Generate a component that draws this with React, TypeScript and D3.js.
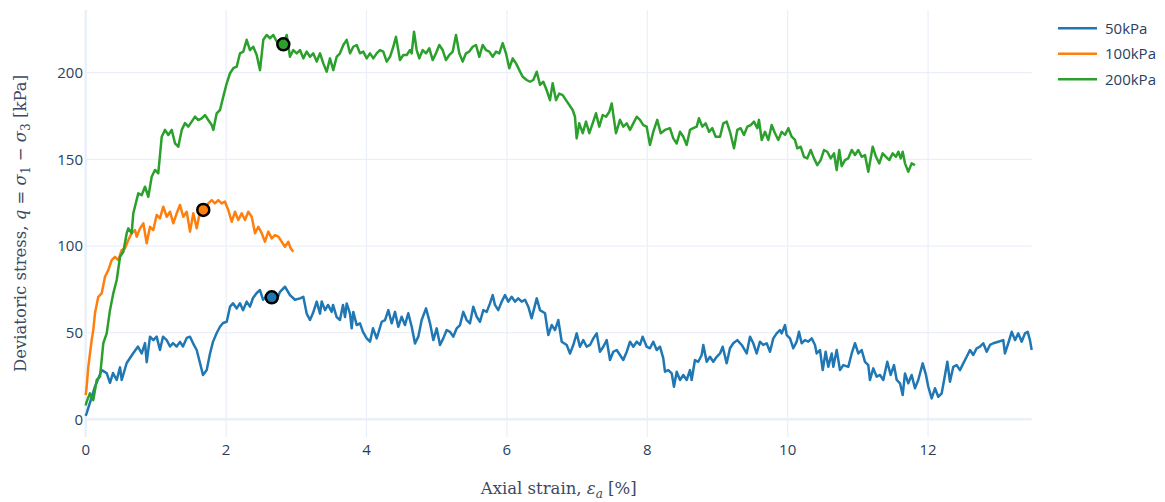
import React from 'react';
import * as d3 from 'd3';

const seriesNames = ['50kPa', '100kPa', '200kPa'];
const seriesColors = ['#1f77b4', '#ff7f0e', '#2ca02c'];

// [axial strain %, deviatoric stress kPa]
const data50: [number, number][] = [
  [0,2],[0.014,3.6],[0.132,18.8],[0.228,28.4],[0.299,26.7],[0.346,21],[0.389,26.7],[0.442,22.7],[0.489,30],[0.513,22.7],
  [0.584,32.5],[0.674,38],[0.745,42],[0.798,38],[0.845,44],[0.869,33],[0.916,47.7],[0.963,45.7],[1.011,47.7],[1.058,40],
  [1.101,47.7],[1.154,45.7],[1.201,42],[1.244,44],[1.296,42],[1.343,44.7],[1.386,42],[1.439,47],[1.486,47.7],[1.528,44],
  [1.581,40],[1.628,32.5],[1.671,25.6],[1.724,28.4],[1.771,38],[1.813,44.7],[1.866,49.8],[1.913,53.4],[1.956,55.6],[2.009,56.3],
  [2.056,65],[2.098,67],[2.151,64],[2.198,67],[2.241,63],[2.293,67.9],[2.34,65],[2.383,70],[2.436,72.9],[2.483,74.6],
  [2.526,69],[2.597,72],[2.65,70.4],[2.711,68],[2.768,73.6],[2.839,76.5],[2.91,71.7],[2.981,69],[3.053,69.8],[3.1,70.7],
  [3.148,61],[3.195,57.3],[3.238,61.3],[3.291,67.9],[3.338,61],[3.362,68],[3.409,63],[3.452,66],[3.504,62],[3.523,66],
  [3.575,59],[3.622,57.3],[3.665,66],[3.694,59],[3.718,66.9],[3.765,61],[3.789,52.5],[3.812,62],[3.86,54.4],[3.907,55.4],
  [3.95,50.5],[4.003,46.7],[4.05,44.8],[4.093,52.5],[4.145,46.7],[4.217,56.3],[4.264,57.3],[4.311,63],[4.359,55.4],[4.406,62],
  [4.453,53.4],[4.501,59.2],[4.548,54.4],[4.595,61.2],[4.644,53.4],[4.691,43.8],[4.738,47.7],[4.786,57.3],[4.848,64],[4.905,55.4],
  [4.952,45.7],[5.0,52.5],[5.047,42.9],[5.094,46.7],[5.142,51.5],[5.189,50.5],[5.236,47.7],[5.285,52.5],[5.332,54.4],[5.379,62],
  [5.427,57.3],[5.474,55.4],[5.521,65],[5.57,59.2],[5.617,56.3],[5.664,63],[5.712,62],[5.759,66.9],[5.798,71.7],[5.83,66],
  [5.877,63],[5.926,67.9],[5.973,71.7],[6.02,67.9],[6.068,70.7],[6.115,67.9],[6.162,69.8],[6.211,67.9],[6.258,69],[6.305,65],
  [6.353,58.3],[6.425,69.8],[6.472,63],[6.543,61.2],[6.59,48.6],[6.638,54.4],[6.685,51.5],[6.732,57.3],[6.781,44.8],[6.852,42.9],
  [6.899,38],[6.946,42.9],[6.994,49.6],[7.041,41.9],[7.088,45.7],[7.137,41.9],[7.184,42.9],[7.231,46.7],[7.279,49.6],[7.326,39],
  [7.373,41.9],[7.422,45.7],[7.469,34.2],[7.516,39],[7.564,40],[7.611,37.1],[7.658,34.2],[7.707,39],[7.754,44.8],[7.801,41.9],
  [7.849,44.8],[7.896,42.9],[7.934,47.7],[7.991,41.9],[8.038,41],[8.085,44.8],[8.134,40],[8.181,41.9],[8.228,35.2],[8.252,27.5],
  [8.299,28.4],[8.348,26.5],[8.38,18.8],[8.419,27.5],[8.466,22.7],[8.513,25.6],[8.561,22.7],[8.608,28.4],[8.632,22.7],[8.679,34.2],
  [8.726,33.2],[8.775,37.1],[8.798,42.9],[8.846,33.2],[8.893,36.1],[8.94,33.2],[8.989,36.1],[9.036,38],[9.074,41.9],[9.131,32.3],
  [9.178,41],[9.225,43.9],[9.282,45.7],[9.345,42.9],[9.416,38],[9.463,47.7],[9.51,43.9],[9.558,38],[9.605,44.8],[9.652,42.9],
  [9.701,43.9],[9.748,39],[9.795,46.7],[9.843,49.6],[9.89,51.5],[9.915,49.6],[9.962,54.4],[9.986,48.6],[10.033,46.7],[10.08,41],
  [10.128,44.8],[10.161,50.5],[10.199,43.9],[10.246,45.7],[10.293,44.8],[10.342,46.7],[10.389,42.9],[10.413,38],[10.46,40],[10.499,28.4],
  [10.541,39],[10.578,30.3],[10.627,38],[10.65,30.3],[10.698,40],[10.745,28.4],[10.792,31.3],[10.863,30.3],[10.912,38],[10.959,43.9],
  [11.006,38],[11.054,40],[11.101,33.2],[11.148,31.3],[11.172,22.7],[11.219,29.4],[11.268,24.6],[11.315,25.6],[11.362,22.7],[11.419,33.2],
  [11.467,25.6],[11.514,31.3],[11.553,22.7],[11.6,20.8],[11.638,14],[11.671,26.5],[11.718,20.8],[11.766,25.6],[11.813,17.9],[11.86,22.7],
  [11.923,32.3],[11.97,25.6],[12.003,18.8],[12.051,12.1],[12.098,17.9],[12.145,13],[12.194,15],[12.241,25.6],[12.274,33.2],[12.312,21.7],
  [12.359,30.3],[12.407,31.3],[12.454,28.4],[12.501,32.3],[12.55,36.1],[12.597,40],[12.644,37.1],[12.692,41],[12.739,41.9],[12.786,43.9],
  [12.835,39],[12.882,42.9],[12.929,43.9],[13.0,44.8],[13.071,45.7],[13.095,38],[13.142,43.9],[13.191,50.5],[13.238,45.7],[13.285,49.6],
  [13.333,44.8],[13.38,49.6],[13.419,50.5],[13.451,45.7],[13.476,40]
];

const data100: [number, number][] = [
  [0,14],[0.014,18.8],[0.037,30.3],[0.085,45.7],[0.108,51.5],[0.132,61.2],[0.179,70.7],[0.228,72.7],[0.275,82.3],[0.322,86.1],
  [0.37,91.9],[0.417,93.8],[0.464,91.9],[0.513,97.7],[0.56,98.7],[0.607,103.5],[0.655,107.4],[0.702,109.2],[0.726,105.4],[0.774,110.2],
  [0.821,113.1],[0.869,101.6],[0.916,111.1],[0.963,109.2],[1.011,117.9],[1.058,116],[1.105,122.7],[1.154,116.9],[1.201,119.8],[1.248,113.1],
  [1.296,118.9],[1.343,123.7],[1.39,116.9],[1.439,119.8],[1.486,108.3],[1.533,118.9],[1.581,110.2],[1.628,119.8],[1.675,120.8],[1.746,124.6],
  [1.795,126.5],[1.842,124.6],[1.889,126.5],[1.937,124.6],[1.984,125.6],[2.031,120.8],[2.08,114],[2.127,119.8],[2.174,115],[2.222,118.9],
  [2.269,115],[2.316,119.8],[2.365,116.9],[2.412,107.4],[2.459,111.1],[2.507,107.4],[2.554,102.5],[2.601,108.3],[2.65,104.4],[2.697,106.3],
  [2.744,105.4],[2.792,102.5],[2.839,99.6],[2.886,102.5],[2.92,98.7],[2.957,96.7]
];

const data200: [number, number][] = [
  [0,8],[0.014,10.2],[0.061,15],[0.108,11.1],[0.157,22.7],[0.204,24.6],[0.251,43.9],[0.299,49.6],[0.346,63],[0.393,72.7],
  [0.442,80.4],[0.489,93.8],[0.536,96.7],[0.584,107.4],[0.607,110.2],[0.655,107.4],[0.678,118.9],[0.749,130.4],[0.798,129.4],[0.845,134.2],
  [0.892,128.4],[0.94,140],[0.987,143.9],[1.034,142],[1.083,163.1],[1.13,167],[1.177,164.1],[1.225,167],[1.272,159.3],[1.319,157.3],
  [1.368,167],[1.415,170.9],[1.462,168.9],[1.51,171.8],[1.557,174.7],[1.604,172.7],[1.652,173.7],[1.699,175.6],[1.746,172.7],[1.795,169.8],
  [1.818,167],[1.866,176.6],[1.913,178.5],[1.96,186.2],[2.009,193.9],[2.056,199.7],[2.103,202.6],[2.151,203.5],[2.198,211.2],[2.245,212.2],
  [2.293,219],[2.34,213.1],[2.387,215],[2.436,210.2],[2.483,201.5],[2.53,219],[2.578,221.8],[2.625,219.9],[2.672,221.8],[2.721,218],
  [2.768,219],[2.815,216.4],[2.863,221.8],[2.91,209.2],[2.957,213.1],[3.006,211.2],[3.053,213.1],[3.1,208.3],[3.148,212.2],[3.195,209.2],
  [3.242,211.2],[3.291,206.4],[3.338,211.2],[3.385,205.4],[3.433,200.6],[3.48,208.3],[3.527,201.5],[3.575,209.2],[3.622,211.2],[3.67,216],
  [3.718,219],[3.765,211.2],[3.812,215],[3.86,216],[3.907,211.2],[3.954,212.2],[4.003,208.3],[4.05,211.2],[4.097,208.3],[4.145,211.2],
  [4.192,213.1],[4.239,212.2],[4.288,206.4],[4.335,209.2],[4.382,215],[4.42,220.7],[4.477,207.3],[4.524,210.2],[4.573,210.2],[4.62,213.1],
  [4.644,211.2],[4.677,223.7],[4.715,213.1],[4.752,208.3],[4.801,213.1],[4.848,211.2],[4.895,214.1],[4.943,207.3],[4.99,211.2],[5.037,216],
  [5.085,213.1],[5.132,207.3],[5.179,210.2],[5.228,212.2],[5.275,221.8],[5.322,211.2],[5.37,206.4],[5.417,211.2],[5.464,212.2],[5.513,215],
  [5.56,216],[5.607,209.2],[5.655,216],[5.702,213.1],[5.749,212.2],[5.798,209.2],[5.845,212.2],[5.892,211.2],[5.94,217.1],[5.987,211.2],
  [6.034,202.6],[6.083,208.3],[6.13,205.4],[6.177,201.5],[6.225,197.7],[6.282,195.8],[6.329,194.8],[6.376,195.8],[6.425,200.6],[6.472,193],
  [6.519,194.8],[6.567,189.9],[6.614,184.2],[6.652,193.9],[6.699,184.2],[6.746,188],[6.795,187.1],[6.842,184.2],[6.889,181.4],[6.937,178.5],
  [6.97,174.6],[6.994,162.1],[7.031,170.8],[7.08,165.1],[7.127,171.8],[7.174,165.1],[7.222,170.8],[7.269,176.6],[7.316,168.9],[7.365,175.6],
  [7.412,174.6],[7.459,177.5],[7.493,182.3],[7.554,165.1],[7.611,172.8],[7.658,168.9],[7.707,170.8],[7.754,167],[7.801,170.8],[7.849,174.6],
  [7.896,172.8],[7.943,169.8],[7.991,168.9],[8.038,158.3],[8.085,165.9],[8.142,172.8],[8.191,165.1],[8.252,167],[8.323,168],[8.37,162.1],
  [8.419,159.2],[8.466,165.9],[8.513,163.1],[8.561,158.3],[8.608,167],[8.655,168],[8.704,168.9],[8.736,173.7],[8.784,168.9],[8.832,170.8],
  [8.879,165.9],[8.926,168],[8.974,163.1],[9.036,163.1],[9.083,170.8],[9.131,171.8],[9.178,165.9],[9.235,156.4],[9.282,167],[9.33,168],
  [9.377,164.1],[9.425,168.9],[9.473,169.8],[9.52,171.8],[9.567,168],[9.591,172.8],[9.63,161.2],[9.677,165.9],[9.724,161.2],[9.772,169.8],
  [9.819,165.1],[9.866,161.2],[9.915,165.9],[9.962,164.1],[10.009,168],[10.057,163.1],[10.104,161.2],[10.137,156.4],[10.185,157.3],[10.232,151.5],
  [10.279,150.6],[10.328,155.4],[10.375,150.6],[10.422,146.7],[10.47,149.6],[10.517,155.4],[10.564,154.4],[10.613,150.6],[10.66,153.5],[10.698,143.8],
  [10.735,155.4],[10.769,146.1],[10.816,149.6],[10.863,150.6],[10.912,155.4],[10.959,152.5],[11.006,155.4],[11.054,151.5],[11.101,152.5],[11.148,142.9],
  [11.211,157.3],[11.258,151.5],[11.305,147.7],[11.353,153.5],[11.4,151.5],[11.447,149.6],[11.496,153.5],[11.543,151.5],[11.576,154.4],[11.61,150.6],
  [11.638,154.4],[11.671,147.7],[11.718,142.9],[11.766,147.7],[11.813,146.7]
];

const allSeries = [data50, data100, data200];

const peakStrain = [2.65, 1.675, 2.815];
const peakStress = [70.4, 120.8, 216.4];

const xTicks = [0, 2, 4, 6, 8, 10, 12];
const yTicks = [0, 50, 100, 150, 200];

const W = 1165;
const H = 502;
const plotLeft = 85.7;
const plotRight = 1031.7;
const plotTop = 10;
const plotBottom = 437;
const yRange: [number, number] = [-10.2, 236.2];

const tickColor = '#2a3f5f';
const titleColor = '#3b4a63';
const gridColor = '#ebf0f8';
const sansFont = '"Open Sans", "Noto Sans", sans-serif';
const serifFont = '"DejaVu Serif", "Liberation Serif", serif';

export default function App() {
  const xMax = d3.max(data50, (d) => d[0]) as number;
  const x = d3.scaleLinear().domain([0, xMax]).range([plotLeft, plotRight]);
  const y = d3.scaleLinear().domain(yRange).range([plotBottom, plotTop]);
  const line = d3
    .line<[number, number]>()
    .x((d) => x(d[0]))
    .y((d) => y(d[1]));

  const midY = (plotTop + plotBottom) / 2;
  const midX = (plotLeft + plotRight) / 2;

  return (
    <svg
      width={W}
      height={H}
      style={{ position: 'absolute', left: 0, top: 0, background: '#fff' }}
    >
      <rect x={0} y={0} width={W} height={H} fill="#fff" />
      {xTicks.filter((t) => t !== 0).map((t) => (
        <line key={'gx' + t} x1={x(t)} x2={x(t)} y1={plotTop} y2={plotBottom} stroke={gridColor} strokeWidth={1.25} />
      ))}
      {yTicks.filter((t) => t !== 0).map((t) => (
        <line key={'gy' + t} x1={plotLeft} x2={plotRight} y1={y(t)} y2={y(t)} stroke={gridColor} strokeWidth={1.25} />
      ))}
      <line x1={x(0)} x2={x(0)} y1={plotTop} y2={plotBottom} stroke={gridColor} strokeWidth={2.5} />
      <line x1={plotLeft} x2={plotRight} y1={y(0)} y2={y(0)} stroke={gridColor} strokeWidth={2.5} />

      {xTicks.map((t) => (
        <text key={'tx' + t} x={x(t)} y={455} textAnchor="middle" fontFamily={sansFont} fontSize={15} fill={tickColor}>
          {t}
        </text>
      ))}
      {yTicks.map((t) => (
        <text key={'ty' + t} x={83} y={y(t)} dy="0.35em" textAnchor="end" fontFamily={sansFont} fontSize={15} fill={tickColor}>
          {t}
        </text>
      ))}

      <g clipPath="url(#plotclip)">
        {allSeries.map((s, i) => (
          <path key={'s' + i} d={line(s) || ''} fill="none" stroke={seriesColors[i]} strokeWidth={2.5} strokeLinejoin="round" />
        ))}
        {peakStrain.map((px, i) => (
          <circle key={'m' + i} cx={x(px)} cy={y(peakStress[i])} r={6} fill={seriesColors[i]} stroke="#000" strokeWidth={2.5} />
        ))}
      </g>
      <defs>
        <clipPath id="plotclip">
          <rect x={plotLeft - 10} y={plotTop - 10} width={plotRight - plotLeft + 20} height={plotBottom - plotTop + 20} />
        </clipPath>
      </defs>

      <text x={midX} y={494} textAnchor="middle" fontFamily={serifFont} fontSize={16.5} fill={titleColor}>
        Axial strain,{' '}
        <tspan fontStyle="italic">ε</tspan>
        <tspan fontStyle="italic" fontSize={12} dy={4}>a</tspan>
        <tspan dy={-4}> [%]</tspan>
      </text>
      <text
        transform={`translate(26, ${midY}) rotate(-90)`}
        textAnchor="middle"
        fontFamily={serifFont}
        fontSize={16.5}
        fill={titleColor}
      >
        Deviatoric stress,{' '}
        <tspan fontStyle="italic">q</tspan>
        <tspan> = </tspan>
        <tspan fontStyle="italic">σ</tspan>
        <tspan fontSize={12} dy={4}>1</tspan>
        <tspan dy={-4}> − </tspan>
        <tspan fontStyle="italic">σ</tspan>
        <tspan fontSize={12} dy={4}>3</tspan>
        <tspan dy={-4}> [kPa]</tspan>
      </text>

      {seriesNames.map((n, i) => (
        <g key={'l' + i} transform={`translate(1058, ${28.3 + i * 25.5})`}>
          <line x1={0} x2={39} y1={0} y2={0} stroke={seriesColors[i]} strokeWidth={2.5} />
          <text x={47} y={0} dy="0.35em" fontFamily={sansFont} fontSize={15} fill={tickColor}>
            {n}
          </text>
        </g>
      ))}
    </svg>
  );
}
